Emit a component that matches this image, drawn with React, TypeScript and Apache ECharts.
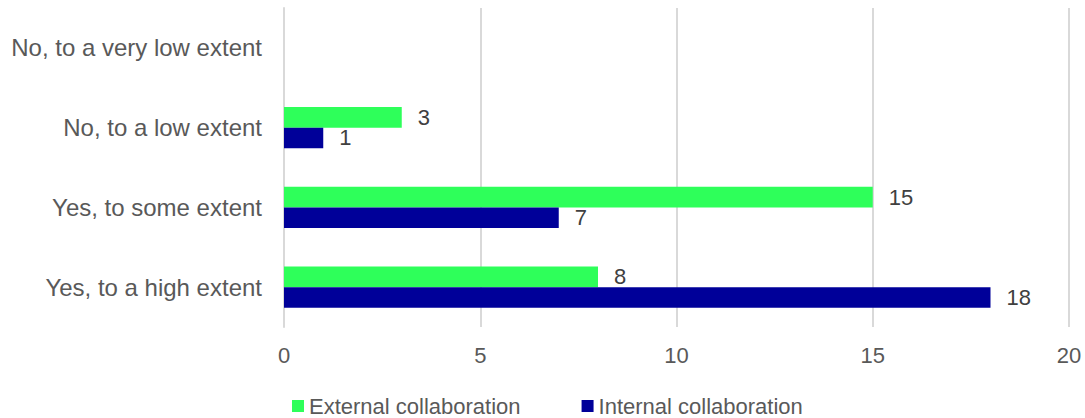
import React, { useEffect, useRef } from "react";
import * as echarts from "echarts";

const categories = [
  "Yes, to a high extent",
  "Yes, to some extent",
  "No, to a low extent",
  "No, to a very low extent",
];
const externalValues = [8, 15, 3, null];
const internalValues = [18, 7, 1, null];
const xTicks = [0, 5, 10, 15, 20];

export default function App() {
  const ref = useRef<HTMLDivElement>(null);
  useEffect(() => {
    document.body.style.margin = "0";
    const chart = echarts.init(ref.current!, null, { renderer: "svg" });
    const font = "'Liberation Sans', Arial, sans-serif";
    const labelStyle = {
      show: true,
      position: "right" as const,
      distance: 16,
      color: "#404040",
      fontSize: 22,
      fontFamily: font,
    };
    chart.setOption({
      animation: false,
      textStyle: { fontFamily: font },
      grid: { left: 284, right: 16, top: 8, bottom: 91, containLabel: false },
      legend: {
        data: ["External collaboration", "Internal collaboration"],
        top: 390,
        left: 287,
        itemWidth: 12,
        itemHeight: 12,
        itemGap: 61,
        icon: "rect",
        textStyle: { fontSize: 22, color: "#595959", fontFamily: font },
      },
      xAxis: {
        type: "value",
        min: xTicks[0],
        max: xTicks[xTicks.length - 1],
        interval: 5,
        axisLine: { show: false },
        axisTick: { show: false },
        splitLine: { lineStyle: { color: "#d9d9d9", width: 2 } },
        axisLabel: { fontSize: 22, color: "#595959", margin: 17, fontFamily: font },
      },
      yAxis: {
        type: "category",
        data: categories,
        axisLine: { show: true, lineStyle: { color: "#d9d9d9", width: 2 } },
        axisTick: { show: false },
        axisLabel: { fontSize: 24, color: "#595959", margin: 22, fontFamily: font },
      },
      series: [
        {
          name: "External collaboration",
          type: "bar",
          data: externalValues,
          itemStyle: { color: "#2eff5a" },
          barGap: "0%",
          barCategoryGap: "48%",
          label: labelStyle,
        },
        {
          name: "Internal collaboration",
          type: "bar",
          data: internalValues,
          itemStyle: { color: "#000099" },
          barGap: "0%",
          barCategoryGap: "48%",
          label: labelStyle,
        },
      ],
    });
    return () => chart.dispose();
  }, []);
  return <div ref={ref} style={{ width: 1085, height: 418 }} />;
}
